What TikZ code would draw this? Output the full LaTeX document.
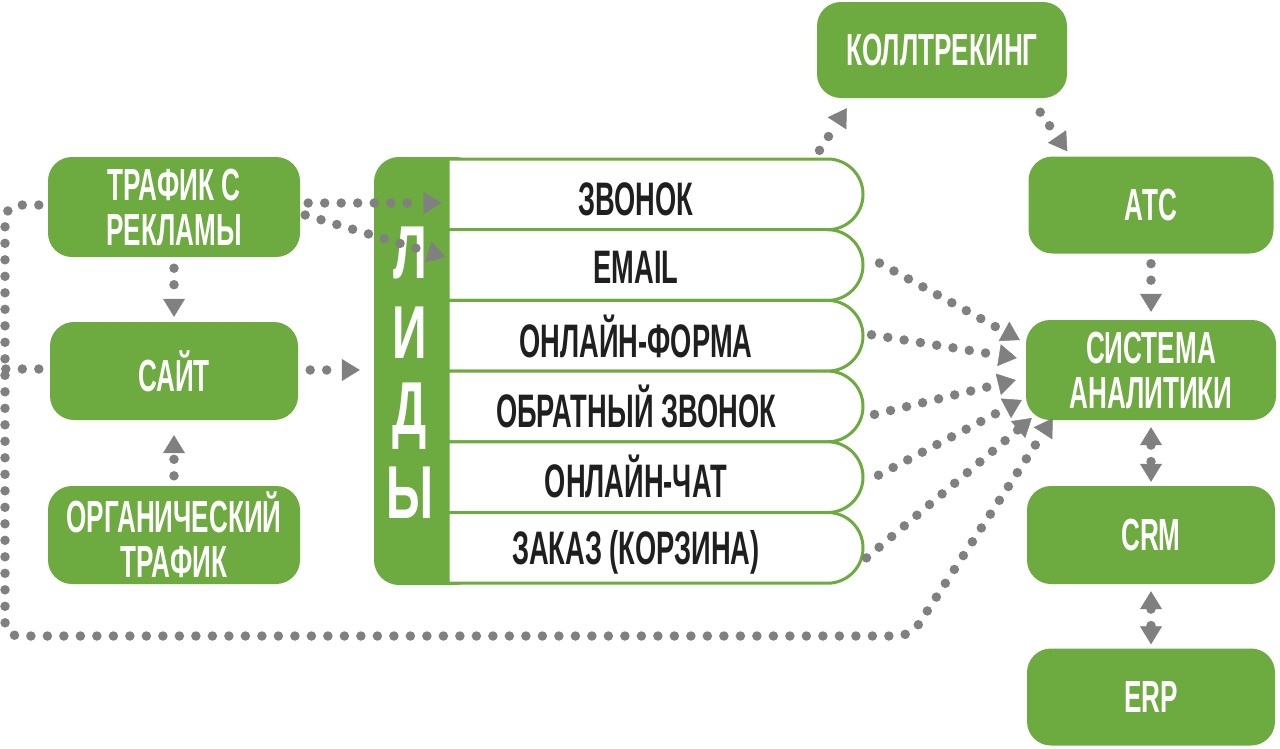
\documentclass[tikz,border=0pt]{standalone}
\usepackage{fontspec}
\usetikzlibrary{arrows.meta,shapes.misc,calc}
\newfontfamily\cfb{Liberation Sans}[FakeStretch=0.58]
\newfontfamily\lfb{Liberation Sans}[FakeStretch=0.64]
\definecolor{gr}{RGB}{109,170,63}
\definecolor{dotc}{RGB}{128,128,128}
\begin{document}
\begin{tikzpicture}[x=1pt,y=-1pt,
 box/.style={fill=gr, rounded corners=24pt, text=white, align=center, inner sep=0pt,
   font=\cfb\bfseries\fontsize{45}{45}\selectfont},
 row/.style={rounded rectangle, rounded rectangle west arc=none, draw=gr, line width=3pt,
   fill=white, minimum width=415pt, minimum height=70.7pt, inner sep=0pt},
 rowtxt/.style={font=\cfb\bfseries\fontsize{47}{47}\selectfont, text=black!88, inner sep=0pt, anchor=base},
 lett/.style={font=\lfb\bfseries\fontsize{75}{75}\selectfont, text=white, inner sep=0pt, anchor=base},
 con/.style={draw=dotc, line width=9.5pt, line cap=round, dash pattern=on 0pt off 16.5pt},
 tip/.style={-{Triangle[length=18pt,width=22pt,line width=0.5pt]}},
 tips/.style={{Triangle[length=18pt,width=22pt,line width=0.5pt]}-{Triangle[length=18pt,width=22pt,line width=0.5pt]}}
]
\useasboundingbox (0,0) rectangle (1280,748);

% left boxes
\node[box, minimum width=252pt, minimum height=100pt] (traf) at (174,207) {ТРАФИК С\\РЕКЛАМЫ};
\node[box, minimum width=248pt, minimum height=98pt] (sajt) at (174,371) {САЙТ};
\node[box, minimum width=252pt, minimum height=98pt] (org) at (174,535) {ОРГАНИЧЕСКИЙ\\ТРАФИК};

% right boxes
\node[box, minimum width=250pt, minimum height=96pt] (koll) at (942,50) {КОЛЛТРЕКИНГ};
\node[box, minimum width=245pt, minimum height=97pt] (ats) at (1151,205) {АТС};
\node[box, minimum width=250pt, minimum height=100pt] (sys) at (1151,370) {СИСТЕМА\\АНАЛИТИКИ};
\node[box, minimum width=248pt, minimum height=98pt] (crm) at (1151,535) {CRM};
\node[box, minimum width=248pt, minimum height=97pt] (erp) at (1151,697) {ERP};

% leads block
\node[fill=gr, rounded corners=25pt, minimum width=106pt, minimum height=428pt, inner sep=0pt] (lid) at (427,371) {};
\node[row] (r1) at (655.5,194.35) {};
\node[row] (r2) at (655.5,265.05) {};
\node[row] (r3) at (655.5,335.75) {};
\node[row] (r4) at (655.5,406.45) {};
\node[row] (r5) at (655.5,477.15) {};
\node[row] (r6) at (655.5,547.85) {};
\node[rowtxt] (t1) at (636,215) {ЗВОНОК};
\node[rowtxt] (t2) at (636,283) {EMAIL};
\node[rowtxt] (t3) at (636,357) {ОНЛАЙН-ФОРМА};
\node[rowtxt] (t4) at (636,427) {ОБРАТНЫЙ ЗВОНОК};
\node[rowtxt] (t5) at (636,497) {ОНЛАЙН-ЧАТ};
\node[rowtxt] (t6) at (636,564) {ЗАКАЗ (КОРЗИНА)};
\node[lett] (l1) at (410,278) {Л};
\node[lett] (l2) at (410,358) {И};
\node[lett] (l3) at (410,434) {Д};
\node[lett] (l4) at (410,518) {Ы};

% connectors left
\draw[con,tip] ($(traf.east)+(8,-4)$) -- ($(r1.west |- traf.east)+(-5,-4)$);
\draw[con,tip] ($(traf.east)+(5,8)$) -- ($(r2.west)+(-1,-8)$);
\draw[con,tip] ($(traf.south)+(0,11)$) -- ($(sajt.north)+(0,-5)$);
\draw[con,tip] ($(org.north)+(0,-10)$) -- ($(sajt.south)+(0,15)$);
\draw[con,tip] ($(sajt.east)+(12,-1)$) -- ($(lid.west)+(-14,-1)$);

% big loop
\coordinate (c1) at (5,205);
\coordinate (c2) at (5,636);
\coordinate (c3) at (911,636);
\coordinate (c4) at (5,369);
\draw[con,tip,rounded corners=14pt] ($(traf.west)+(-9,-2)$) -- (c1) -- (c2) -- (c3) -- ($(sys.south west)+(27,-2)$);
\draw[con] ($(sajt.west)+(-11,-2)$) -- (c4);

% leads to analytics
\draw[con,tip] ($(r2.east)+(15,-2)$) -- ($(sys.west)+(-6,-30)$);
\draw[con,tip] ($(r3.east)+(7,-1)$) -- ($(sys.west)+(-9,-12)$);
\draw[con,tip] ($(r4.east)+(10,8)$) -- ($(sys.west)+(-10,10)$);
\draw[con,tip] ($(r5.east)+(14,-2)$) -- ($(sys.west)+(-4,30)$);
\draw[con,tip] ($(r6.east)+(2,10)$) -- ($(sys.west)+(6,48)$);

% right side
\draw[con,tip] ($(r1.east)+(-45,-44)$) -- ($(koll.south west)+(30,10)$);
\draw[con,tip] ($(koll.south east)+(-27,14)$) -- ($(ats.north west)+(39,-5)$);
\draw[con,tip] ($(ats.south)+(0,10)$) -- ($(sys.north)+(0,-8)$);
\draw[con,tips] ($(sys.south)+(0,7)$) -- ($(crm.north)+(0,-4)$);
\draw[con,tips] ($(crm.south)+(0,7)$) -- ($(erp.north)+(0,-4)$);
\end{tikzpicture}
\end{document}
